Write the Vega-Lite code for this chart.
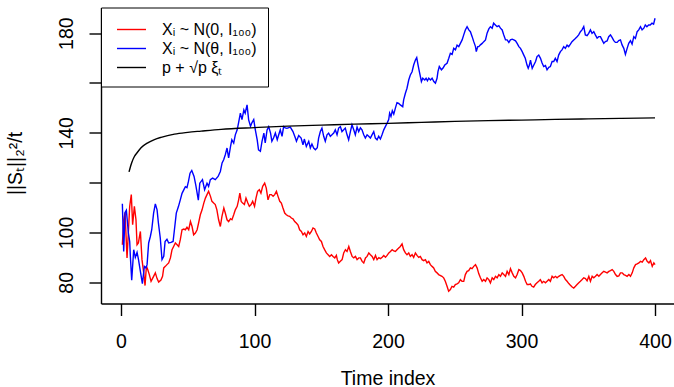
{
  "$schema": "https://vega.github.io/schema/vega-lite/v6.json",
  "width": 573,
  "height": 296,
  "autosize": {"type": "none"},
  "padding": {"left": 101, "top": 7.5, "right": 0, "bottom": 83.5},
  "background": "white",
  "config": {
    "view": {"stroke": null},
    "font": "Liberation Sans",
    "axis": {"domainColor": "black", "domainWidth": 1.4, "tickColor": "black", "tickWidth": 1.4, "labelColor": "black", "titleColor": "black", "grid": false, "labelFont": "Liberation Sans", "titleFont": "Liberation Sans", "titleFontWeight": "normal", "labelOverlap": false, "labelFlush": false}
  },
  "datasets": {
    "pts": [
      {"s":"a","t":1,"v":95.1},{"s":"a","t":2,"v":105.1},{"s":"a","t":3,"v":108},{"s":"a","t":4.5,"v":89.8},{"s":"a","t":5.5,"v":100},{"s":"a","t":6.5,"v":110.5},{"s":"a","t":7.7,"v":115.2},{"s":"a","t":8.7,"v":103.1},{"s":"a","t":10,"v":110.5},{"s":"a","t":11.2,"v":105.1},{"s":"a","t":12,"v":95.1},{"s":"a","t":13,"v":95.8},{"s":"a","t":14.5,"v":100.4},{"s":"a","t":15.7,"v":89.1},{"s":"a","t":17,"v":83.8},{"s":"a","t":18,"v":78.7},{"s":"a","t":19,"v":86.4},{"s":"a","t":20,"v":85.1},{"s":"a","t":21.2,"v":83.1},{"s":"a","t":22.5,"v":80.4},{"s":"a","t":24.4,"v":82.4},{"s":"a","t":25.7,"v":83.8},{"s":"a","t":27,"v":81.5},{"s":"a","t":28.2,"v":80.1},{"s":"a","t":29.9,"v":80.9},{"s":"a","t":31.1,"v":82.4},{"s":"a","t":32,"v":85.8},{"s":"a","t":33.2,"v":86.4},{"s":"a","t":34.4,"v":87.1},{"s":"a","t":35.7,"v":87.8},{"s":"a","t":37,"v":89.8},{"s":"a","t":38.2,"v":93.1},{"s":"a","t":39.4,"v":94.4},{"s":"a","t":40.7,"v":95.8},{"s":"a","t":42,"v":95.1},{"s":"a","t":43.2,"v":94.4},{"s":"a","t":44.4,"v":97.1},{"s":"a","t":45.7,"v":101.1},{"s":"a","t":47,"v":101.4},{"s":"a","t":48.2,"v":101.1},{"s":"a","t":49.4,"v":102.1},{"s":"a","t":50.7,"v":101.1},{"s":"a","t":52,"v":104.4},{"s":"a","t":53.2,"v":102.4},{"s":"a","t":54.4,"v":99.1},{"s":"a","t":55.7,"v":99.8},{"s":"a","t":57,"v":101.1},{"s":"a","t":58.1,"v":103.8},{"s":"a","t":59.4,"v":107.1},{"s":"a","t":60.7,"v":109.1},{"s":"a","t":62,"v":111.8},{"s":"a","t":63.2,"v":113.8},{"s":"a","t":64.4,"v":115.2},{"s":"a","t":65.6,"v":116.5},{"s":"a","t":67,"v":114.5},{"s":"a","t":68.1,"v":112.5},{"s":"a","t":69.4,"v":111.8},{"s":"a","t":70.6,"v":111.2},{"s":"a","t":71.8,"v":109.1},{"s":"a","t":73.1,"v":105.1},{"s":"a","t":74.4,"v":102.4},{"s":"a","t":75.6,"v":106.5},{"s":"a","t":77,"v":109.8},{"s":"a","t":78.1,"v":107.8},{"s":"a","t":79.4,"v":105.1},{"s":"a","t":80.6,"v":104.4},{"s":"a","t":82,"v":105.5},{"s":"a","t":83.1,"v":105.1},{"s":"a","t":84.4,"v":107.1},{"s":"a","t":85.6,"v":109.1},{"s":"a","t":87,"v":110.5},{"s":"a","t":88.1,"v":113.1},{"s":"a","t":89,"v":115.8},{"s":"a","t":90,"v":112.5},{"s":"a","t":91.1,"v":111.8},{"s":"a","t":92.4,"v":111.2},{"s":"a","t":93.6,"v":113.8},{"s":"a","t":95,"v":111.8},{"s":"a","t":96.1,"v":110.5},{"s":"a","t":97.4,"v":111.2},{"s":"a","t":98.6,"v":112.5},{"s":"a","t":100,"v":110.5},{"s":"a","t":101.1,"v":113.8},{"s":"a","t":102.3,"v":116.5},{"s":"a","t":103.6,"v":117.2},{"s":"a","t":104.8,"v":115.8},{"s":"a","t":106.1,"v":118.5},{"s":"a","t":107.6,"v":119.8},{"s":"a","t":108.8,"v":117.8},{"s":"a","t":110.1,"v":113.1},{"s":"a","t":111.4,"v":115.2},{"s":"a","t":112.6,"v":115.2},{"s":"a","t":113.9,"v":114.5},{"s":"a","t":115.1,"v":115.2},{"s":"a","t":116.4,"v":116.5},{"s":"a","t":117.6,"v":114.5},{"s":"a","t":118.9,"v":112.5},{"s":"a","t":120.1,"v":111.8},{"s":"a","t":121.3,"v":109.8},{"s":"a","t":122.6,"v":107.8},{"s":"a","t":123.8,"v":107.1},{"s":"a","t":125.1,"v":106.7},{"s":"a","t":126.3,"v":106.5},{"s":"a","t":127.6,"v":105.8},{"s":"a","t":128.8,"v":105.5},{"s":"a","t":130.1,"v":104.4},{"s":"a","t":131.3,"v":103.8},{"s":"a","t":132.6,"v":103},{"s":"a","t":133.8,"v":101.1},{"s":"a","t":135.1,"v":100.4},{"s":"a","t":136.3,"v":99.1},{"s":"a","t":137.6,"v":99.8},{"s":"a","t":138.8,"v":98.4},{"s":"a","t":140.1,"v":100.4},{"s":"a","t":141.3,"v":99.4},{"s":"a","t":142.6,"v":100.4},{"s":"a","t":143.8,"v":101.8},{"s":"a","t":145.1,"v":101.4},{"s":"a","t":146.3,"v":99.8},{"s":"a","t":147.6,"v":98.4},{"s":"a","t":148.8,"v":97.1},{"s":"a","t":150.1,"v":96.4},{"s":"a","t":151.3,"v":94.4},{"s":"a","t":152.5,"v":93.1},{"s":"a","t":153.8,"v":91.8},{"s":"a","t":155.1,"v":91.1},{"s":"a","t":156.3,"v":90.4},{"s":"a","t":157.6,"v":91.1},{"s":"a","t":158.8,"v":90.4},{"s":"a","t":160.1,"v":89.8},{"s":"a","t":161.3,"v":90.8},{"s":"a","t":162,"v":89.1},{"s":"a","t":163,"v":87.8},{"s":"a","t":164.3,"v":88.5},{"s":"a","t":165.6,"v":89.1},{"s":"a","t":166.8,"v":91.8},{"s":"a","t":168.1,"v":93.1},{"s":"a","t":169.3,"v":92.4},{"s":"a","t":170.6,"v":94.4},{"s":"a","t":171.8,"v":92.4},{"s":"a","t":173.1,"v":90.4},{"s":"a","t":174.3,"v":89.8},{"s":"a","t":175.6,"v":90.4},{"s":"a","t":176.8,"v":89.1},{"s":"a","t":178.1,"v":89.8},{"s":"a","t":179.3,"v":89.8},{"s":"a","t":180.6,"v":88.4},{"s":"a","t":181.8,"v":87.8},{"s":"a","t":183.1,"v":89.8},{"s":"a","t":184.3,"v":90.4},{"s":"a","t":185.6,"v":91.8},{"s":"a","t":186.8,"v":91.1},{"s":"a","t":188.1,"v":90.4},{"s":"a","t":189.3,"v":89.1},{"s":"a","t":190.6,"v":90.8},{"s":"a","t":191.8,"v":89.1},{"s":"a","t":193.1,"v":89.9},{"s":"a","t":194.3,"v":89.5},{"s":"a","t":195.6,"v":90.1},{"s":"a","t":196.8,"v":90.8},{"s":"a","t":198.1,"v":90.1},{"s":"a","t":199.3,"v":90.8},{"s":"a","t":200.6,"v":91.8},{"s":"a","t":201.8,"v":92.4},{"s":"a","t":203.1,"v":93.1},{"s":"a","t":204.3,"v":92.6},{"s":"a","t":205.5,"v":92.4},{"s":"a","t":206.7,"v":93.1},{"s":"a","t":208,"v":93.8},{"s":"a","t":209.2,"v":94.4},{"s":"a","t":210.5,"v":95.4},{"s":"a","t":211.7,"v":93.1},{"s":"a","t":213,"v":91.8},{"s":"a","t":214.2,"v":91.1},{"s":"a","t":215.5,"v":91.8},{"s":"a","t":216.7,"v":90.4},{"s":"a","t":218,"v":91.1},{"s":"a","t":219.2,"v":90},{"s":"a","t":220.5,"v":91.8},{"s":"a","t":221.7,"v":90.8},{"s":"a","t":223,"v":90},{"s":"a","t":224.2,"v":90.4},{"s":"a","t":225.5,"v":89.1},{"s":"a","t":226.7,"v":88.7},{"s":"a","t":228,"v":89.1},{"s":"a","t":229.2,"v":87.8},{"s":"a","t":230.5,"v":88.4},{"s":"a","t":231.7,"v":87.1},{"s":"a","t":233,"v":86.4},{"s":"a","t":234.2,"v":85.8},{"s":"a","t":235.4,"v":84.4},{"s":"a","t":236.7,"v":83.8},{"s":"a","t":237.9,"v":83.1},{"s":"a","t":240.4,"v":82.4},{"s":"a","t":241.7,"v":81.8},{"s":"a","t":242.9,"v":80.4},{"s":"a","t":244.2,"v":78.4},{"s":"a","t":245.4,"v":76.4},{"s":"a","t":246.7,"v":77.1},{"s":"a","t":247.9,"v":78.4},{"s":"a","t":249.2,"v":78.1},{"s":"a","t":250.4,"v":79.1},{"s":"a","t":251.7,"v":79.4},{"s":"a","t":252.9,"v":79.8},{"s":"a","t":254.2,"v":81.1},{"s":"a","t":255.4,"v":80.4},{"s":"a","t":256.7,"v":80.4},{"s":"a","t":257.9,"v":83.1},{"s":"a","t":259.2,"v":84.4},{"s":"a","t":260.4,"v":84.7},{"s":"a","t":261.7,"v":85.8},{"s":"a","t":262.9,"v":85.5},{"s":"a","t":264.2,"v":86.4},{"s":"a","t":265.5,"v":87.1},{"s":"a","t":266.7,"v":85.8},{"s":"a","t":268,"v":83.4},{"s":"a","t":269.2,"v":81.8},{"s":"a","t":270.5,"v":80.4},{"s":"a","t":271.7,"v":81.1},{"s":"a","t":273,"v":80.4},{"s":"a","t":274.2,"v":81.8},{"s":"a","t":275.5,"v":81.1},{"s":"a","t":276.7,"v":79.8},{"s":"a","t":278,"v":81.8},{"s":"a","t":279.2,"v":81.1},{"s":"a","t":280.5,"v":82.4},{"s":"a","t":281.7,"v":81.8},{"s":"a","t":283,"v":83.1},{"s":"a","t":284.2,"v":82.4},{"s":"a","t":285.5,"v":83.8},{"s":"a","t":286.7,"v":83.1},{"s":"a","t":288,"v":82.4},{"s":"a","t":289.2,"v":84.4},{"s":"a","t":290.5,"v":83.1},{"s":"a","t":291.7,"v":85.5},{"s":"a","t":293,"v":83.8},{"s":"a","t":294.2,"v":82.4},{"s":"a","t":295.5,"v":81.8},{"s":"a","t":296.7,"v":83.1},{"s":"a","t":298,"v":85.1},{"s":"a","t":299.2,"v":84.7},{"s":"a","t":300.5,"v":83.8},{"s":"a","t":301.7,"v":82.4},{"s":"a","t":303,"v":80.4},{"s":"a","t":304.2,"v":79.1},{"s":"a","t":305.5,"v":79.1},{"s":"a","t":306.6,"v":79.4},{"s":"a","t":307.8,"v":78.4},{"s":"a","t":309.1,"v":78.1},{"s":"a","t":310.3,"v":79.1},{"s":"a","t":311.6,"v":79.8},{"s":"a","t":312.9,"v":80.4},{"s":"a","t":314.1,"v":81.1},{"s":"a","t":315.4,"v":79.8},{"s":"a","t":316.6,"v":80.4},{"s":"a","t":317.9,"v":79.8},{"s":"a","t":319.1,"v":80.4},{"s":"a","t":320.4,"v":81.1},{"s":"a","t":321.6,"v":80.4},{"s":"a","t":322.9,"v":82.4},{"s":"a","t":324.1,"v":81.8},{"s":"a","t":325.4,"v":82.4},{"s":"a","t":326.6,"v":81.8},{"s":"a","t":327.9,"v":82.4},{"s":"a","t":329.1,"v":82.8},{"s":"a","t":330.4,"v":83.1},{"s":"a","t":331.6,"v":82.4},{"s":"a","t":332.9,"v":81.1},{"s":"a","t":334.1,"v":80.4},{"s":"a","t":335.4,"v":79.5},{"s":"a","t":336.6,"v":78.8},{"s":"a","t":337.9,"v":78.1},{"s":"a","t":339.1,"v":77.7},{"s":"a","t":340.4,"v":78.4},{"s":"a","t":341.6,"v":79.1},{"s":"a","t":342.9,"v":79.8},{"s":"a","t":344.1,"v":80.4},{"s":"a","t":345.4,"v":81.1},{"s":"a","t":346.6,"v":81.8},{"s":"a","t":347.9,"v":81.5},{"s":"a","t":349.1,"v":80.6},{"s":"a","t":350.4,"v":82.4},{"s":"a","t":351.6,"v":80.4},{"s":"a","t":352.9,"v":82.4},{"s":"a","t":354.1,"v":81.8},{"s":"a","t":355.4,"v":82.4},{"s":"a","t":356.6,"v":83.1},{"s":"a","t":357.9,"v":82.4},{"s":"a","t":359.1,"v":83.1},{"s":"a","t":360.4,"v":83.8},{"s":"a","t":361.6,"v":84.4},{"s":"a","t":362.9,"v":84.1},{"s":"a","t":364.1,"v":83.8},{"s":"a","t":365.4,"v":84.4},{"s":"a","t":366.6,"v":84.7},{"s":"a","t":367.9,"v":85.1},{"s":"a","t":369.1,"v":84.4},{"s":"a","t":370.4,"v":83.1},{"s":"a","t":371.6,"v":82.4},{"s":"a","t":372.9,"v":82.6},{"s":"a","t":374.1,"v":83.8},{"s":"a","t":375.4,"v":83.8},{"s":"a","t":376.6,"v":83.1},{"s":"a","t":377.9,"v":82.8},{"s":"a","t":379.1,"v":82.4},{"s":"a","t":380.4,"v":83.1},{"s":"a","t":381.6,"v":82.4},{"s":"a","t":382.9,"v":83.8},{"s":"a","t":384.1,"v":85.8},{"s":"a","t":385.4,"v":87.1},{"s":"a","t":386.6,"v":87.4},{"s":"a","t":387.9,"v":87.8},{"s":"a","t":389.1,"v":88.4},{"s":"a","t":390.4,"v":88.1},{"s":"a","t":391.6,"v":89.1},{"s":"a","t":392.9,"v":89.8},{"s":"a","t":394.1,"v":88.4},{"s":"a","t":395.4,"v":87.8},{"s":"a","t":396.6,"v":88.7},{"s":"a","t":397.9,"v":86.4},{"s":"a","t":399.1,"v":87.8},{"s":"a","t":400,"v":87.1},
      {"s":"b","t":1,"v":111.5},{"s":"b","t":2,"v":92.4},{"s":"b","t":3,"v":108},{"s":"b","t":4,"v":108.9},{"s":"b","t":5.5,"v":99.9},{"s":"b","t":6.5,"v":96.4},{"s":"b","t":7,"v":90.4},{"s":"b","t":8,"v":80.8},{"s":"b","t":9.5,"v":93.1},{"s":"b","t":10.7,"v":90},{"s":"b","t":12,"v":92},{"s":"b","t":13,"v":89.4},{"s":"b","t":14.5,"v":84.4},{"s":"b","t":16,"v":79.5},{"s":"b","t":17.5,"v":86.4},{"s":"b","t":18.7,"v":85.8},{"s":"b","t":19.5,"v":87.1},{"s":"b","t":20.7,"v":95.8},{"s":"b","t":22,"v":98.5},{"s":"b","t":23,"v":101.1},{"s":"b","t":24.4,"v":107.8},{"s":"b","t":25.7,"v":111.5},{"s":"b","t":27,"v":109.1},{"s":"b","t":28,"v":103.8},{"s":"b","t":29.4,"v":97.8},{"s":"b","t":30.7,"v":89.1},{"s":"b","t":32,"v":90.4},{"s":"b","t":33,"v":96.4},{"s":"b","t":34.4,"v":97.3},{"s":"b","t":35.7,"v":95.8},{"s":"b","t":37.4,"v":96},{"s":"b","t":39,"v":96.4},{"s":"b","t":40,"v":101.1},{"s":"b","t":41.4,"v":107.8},{"s":"b","t":43,"v":110.4},{"s":"b","t":44.4,"v":113.1},{"s":"b","t":45.7,"v":115.7},{"s":"b","t":47,"v":117.1},{"s":"b","t":48.2,"v":118.4},{"s":"b","t":49.4,"v":118},{"s":"b","t":50.5,"v":120.5},{"s":"b","t":51.7,"v":123.8},{"s":"b","t":53,"v":124.9},{"s":"b","t":54.7,"v":122.5},{"s":"b","t":56,"v":119},{"s":"b","t":57.9,"v":113},{"s":"b","t":59,"v":119.8},{"s":"b","t":61,"v":121.2},{"s":"b","t":62.6,"v":117.2},{"s":"b","t":64.4,"v":119.8},{"s":"b","t":65.6,"v":118.5},{"s":"b","t":66.9,"v":121.2},{"s":"b","t":68.6,"v":121.8},{"s":"b","t":70.6,"v":121.2},{"s":"b","t":72.7,"v":122.5},{"s":"b","t":74.4,"v":124.5},{"s":"b","t":75.7,"v":127.9},{"s":"b","t":76.9,"v":129.2},{"s":"b","t":78.1,"v":131.2},{"s":"b","t":79.4,"v":133.9},{"s":"b","t":80.6,"v":129.9},{"s":"b","t":82,"v":134.5},{"s":"b","t":83,"v":137.2},{"s":"b","t":84.4,"v":135.9},{"s":"b","t":85.6,"v":139.2},{"s":"b","t":87,"v":141.2},{"s":"b","t":88,"v":143.9},{"s":"b","t":89.4,"v":147.9},{"s":"b","t":90.6,"v":145.3},{"s":"b","t":92,"v":149.2},{"s":"b","t":93,"v":147.9},{"s":"b","t":94.4,"v":151.2},{"s":"b","t":95.6,"v":145.2},{"s":"b","t":97,"v":142.6},{"s":"b","t":98,"v":144},{"s":"b","t":99.4,"v":145.3},{"s":"b","t":100.6,"v":141.2},{"s":"b","t":102,"v":137.2},{"s":"b","t":103,"v":133.2},{"s":"b","t":104.4,"v":132.6},{"s":"b","t":105.6,"v":136.6},{"s":"b","t":107,"v":139.9},{"s":"b","t":108,"v":136},{"s":"b","t":109.4,"v":141.2},{"s":"b","t":110.6,"v":142.5},{"s":"b","t":112,"v":139.9},{"s":"b","t":113,"v":136.6},{"s":"b","t":114.3,"v":138},{"s":"b","t":115.6,"v":139.9},{"s":"b","t":117,"v":137.2},{"s":"b","t":118,"v":139},{"s":"b","t":119.3,"v":141.2},{"s":"b","t":120.6,"v":138.6},{"s":"b","t":121.8,"v":142.5},{"s":"b","t":123,"v":142},{"s":"b","t":124.3,"v":141.8},{"s":"b","t":126.8,"v":142.3},{"s":"b","t":128.8,"v":140.5},{"s":"b","t":130.6,"v":137.9},{"s":"b","t":131.4,"v":136.6},{"s":"b","t":133.1,"v":138.9},{"s":"b","t":134.9,"v":137.9},{"s":"b","t":136.3,"v":135.2},{"s":"b","t":137.3,"v":137.5},{"s":"b","t":138.8,"v":134.5},{"s":"b","t":140.6,"v":136.6},{"s":"b","t":141.8,"v":133.9},{"s":"b","t":143,"v":135.5},{"s":"b","t":144.3,"v":133.9},{"s":"b","t":145.6,"v":133.2},{"s":"b","t":147,"v":134},{"s":"b","t":148,"v":137.9},{"s":"b","t":149.3,"v":140.5},{"s":"b","t":150.5,"v":141.9},{"s":"b","t":151.8,"v":138.6},{"s":"b","t":153,"v":136.6},{"s":"b","t":154.3,"v":139.2},{"s":"b","t":155.5,"v":139.9},{"s":"b","t":156.8,"v":138.6},{"s":"b","t":158,"v":139.2},{"s":"b","t":159.3,"v":139.9},{"s":"b","t":160.5,"v":141.2},{"s":"b","t":161.8,"v":139.2},{"s":"b","t":163,"v":141.9},{"s":"b","t":164.3,"v":142.5},{"s":"b","t":165.5,"v":140.5},{"s":"b","t":166.8,"v":141.2},{"s":"b","t":168,"v":141.9},{"s":"b","t":169.3,"v":139.2},{"s":"b","t":170.5,"v":137.2},{"s":"b","t":171.8,"v":140.5},{"s":"b","t":173,"v":143.2},{"s":"b","t":174.3,"v":141.2},{"s":"b","t":175.5,"v":139.2},{"s":"b","t":176.8,"v":142.3},{"s":"b","t":178,"v":140.5},{"s":"b","t":179.3,"v":142},{"s":"b","t":180.5,"v":141.2},{"s":"b","t":181.8,"v":139.2},{"s":"b","t":183,"v":137.9},{"s":"b","t":184.3,"v":139.2},{"s":"b","t":185.5,"v":138.6},{"s":"b","t":186.8,"v":137.9},{"s":"b","t":188,"v":139.2},{"s":"b","t":189.3,"v":140.5},{"s":"b","t":190.5,"v":137.9},{"s":"b","t":191.8,"v":137.2},{"s":"b","t":193,"v":138.6},{"s":"b","t":194.3,"v":137.5},{"s":"b","t":195.5,"v":139.2},{"s":"b","t":196.8,"v":141.2},{"s":"b","t":198,"v":142.5},{"s":"b","t":199.3,"v":143.9},{"s":"b","t":200.5,"v":145.3},{"s":"b","t":201.2,"v":147.9},{"s":"b","t":202.2,"v":146.6},{"s":"b","t":203.2,"v":148.9},{"s":"b","t":204.3,"v":147.5},{"s":"b","t":205.5,"v":149.9},{"s":"b","t":206.7,"v":152.1},{"s":"b","t":208,"v":151.8},{"s":"b","t":209.2,"v":151.2},{"s":"b","t":211,"v":150.5},{"s":"b","t":211.7,"v":153.2},{"s":"b","t":213,"v":155.9},{"s":"b","t":214.2,"v":157.9},{"s":"b","t":215.5,"v":161.2},{"s":"b","t":216.7,"v":163.2},{"s":"b","t":218,"v":164.5},{"s":"b","t":219.2,"v":167.2},{"s":"b","t":220.5,"v":169.2},{"s":"b","t":221.5,"v":170.2},{"s":"b","t":222.5,"v":167.2},{"s":"b","t":223.5,"v":164.5},{"s":"b","t":225,"v":160.6},{"s":"b","t":226,"v":161.9},{"s":"b","t":227.5,"v":161.2},{"s":"b","t":228.5,"v":161.9},{"s":"b","t":229.5,"v":160.9},{"s":"b","t":230.5,"v":161.9},{"s":"b","t":231.8,"v":161.2},{"s":"b","t":233,"v":161.9},{"s":"b","t":234.3,"v":160.6},{"s":"b","t":235.5,"v":159.9},{"s":"b","t":236.7,"v":161.9},{"s":"b","t":237.4,"v":164.6},{"s":"b","t":238.4,"v":166.6},{"s":"b","t":240,"v":165.3},{"s":"b","t":241.2,"v":166},{"s":"b","t":242.5,"v":167.2},{"s":"b","t":244.2,"v":167.9},{"s":"b","t":245.5,"v":169.9},{"s":"b","t":246.7,"v":171.9},{"s":"b","t":248,"v":171.5},{"s":"b","t":249.2,"v":173.9},{"s":"b","t":250.5,"v":173.3},{"s":"b","t":251.7,"v":175.2},{"s":"b","t":253,"v":174.6},{"s":"b","t":254.2,"v":175.9},{"s":"b","t":255.5,"v":177.3},{"s":"b","t":256.7,"v":179.3},{"s":"b","t":257.9,"v":181.3},{"s":"b","t":259.2,"v":182.6},{"s":"b","t":260.5,"v":181.3},{"s":"b","t":261.7,"v":180.6},{"s":"b","t":263,"v":178.6},{"s":"b","t":264.2,"v":176.6},{"s":"b","t":265.5,"v":174.6},{"s":"b","t":266.1,"v":172.6},{"s":"b","t":267.2,"v":174.6},{"s":"b","t":268,"v":174.6},{"s":"b","t":269.2,"v":175.3},{"s":"b","t":270.5,"v":175.9},{"s":"b","t":271.7,"v":176.6},{"s":"b","t":273,"v":177.3},{"s":"b","t":274.2,"v":180},{"s":"b","t":275.5,"v":181.7},{"s":"b","t":276.7,"v":182.6},{"s":"b","t":278,"v":182},{"s":"b","t":279.1,"v":184},{"s":"b","t":280.4,"v":183.3},{"s":"b","t":281.7,"v":182.6},{"s":"b","t":283,"v":183},{"s":"b","t":284.2,"v":182},{"s":"b","t":285.5,"v":181.3},{"s":"b","t":286.7,"v":179.3},{"s":"b","t":288,"v":177.3},{"s":"b","t":289.2,"v":177.3},{"s":"b","t":290.5,"v":176.3},{"s":"b","t":291.7,"v":177.3},{"s":"b","t":293,"v":177.6},{"s":"b","t":294.2,"v":177.3},{"s":"b","t":295.5,"v":176.9},{"s":"b","t":296.7,"v":175.9},{"s":"b","t":298,"v":174.6},{"s":"b","t":299.2,"v":173.9},{"s":"b","t":300.5,"v":172.6},{"s":"b","t":301.6,"v":171.3},{"s":"b","t":302.8,"v":169.9},{"s":"b","t":304.1,"v":167.2},{"s":"b","t":305,"v":165.9},{"s":"b","t":305.9,"v":167.2},{"s":"b","t":306.7,"v":169.2},{"s":"b","t":308,"v":165.9},{"s":"b","t":309.2,"v":167.2},{"s":"b","t":310.5,"v":168.6},{"s":"b","t":311.6,"v":170.6},{"s":"b","t":312.9,"v":171.2},{"s":"b","t":314.2,"v":169.9},{"s":"b","t":315.4,"v":168},{"s":"b","t":316.6,"v":166.6},{"s":"b","t":317.9,"v":167},{"s":"b","t":319.1,"v":165.3},{"s":"b","t":320.4,"v":166.3},{"s":"b","t":321.6,"v":166.6},{"s":"b","t":322.9,"v":168.6},{"s":"b","t":324.1,"v":168.6},{"s":"b","t":325.3,"v":169.9},{"s":"b","t":326.6,"v":168.6},{"s":"b","t":327.8,"v":171.2},{"s":"b","t":329.1,"v":172.6},{"s":"b","t":330.3,"v":173.3},{"s":"b","t":331.6,"v":174.6},{"s":"b","t":332.8,"v":173.9},{"s":"b","t":334.1,"v":175.2},{"s":"b","t":335.3,"v":174.6},{"s":"b","t":336.6,"v":175.6},{"s":"b","t":337.8,"v":176.6},{"s":"b","t":339.1,"v":177.3},{"s":"b","t":340.3,"v":177.9},{"s":"b","t":341.6,"v":178.6},{"s":"b","t":342.8,"v":179.3},{"s":"b","t":344.1,"v":180.6},{"s":"b","t":345.3,"v":181.3},{"s":"b","t":346.6,"v":182.6},{"s":"b","t":347.8,"v":179.3},{"s":"b","t":349.1,"v":179},{"s":"b","t":350.3,"v":179.9},{"s":"b","t":351.6,"v":181.3},{"s":"b","t":352.8,"v":179.9},{"s":"b","t":354.1,"v":180.6},{"s":"b","t":355.3,"v":179.3},{"s":"b","t":356.6,"v":178},{"s":"b","t":357.8,"v":178.6},{"s":"b","t":359.1,"v":178.6},{"s":"b","t":360.3,"v":177.3},{"s":"b","t":361.6,"v":175.9},{"s":"b","t":362.8,"v":176.6},{"s":"b","t":364.1,"v":176.9},{"s":"b","t":365.3,"v":178.6},{"s":"b","t":366.6,"v":179.3},{"s":"b","t":367.8,"v":178.3},{"s":"b","t":369.1,"v":177},{"s":"b","t":370.3,"v":176.3},{"s":"b","t":371.6,"v":176.3},{"s":"b","t":372.8,"v":177},{"s":"b","t":374.1,"v":177.3},{"s":"b","t":375.3,"v":175.3},{"s":"b","t":376.6,"v":173.9},{"s":"b","t":377.8,"v":171.5},{"s":"b","t":379.1,"v":173.9},{"s":"b","t":380.3,"v":175.9},{"s":"b","t":381.6,"v":177},{"s":"b","t":382.8,"v":175.6},{"s":"b","t":384.1,"v":178.6},{"s":"b","t":385.3,"v":177.9},{"s":"b","t":386.6,"v":180.6},{"s":"b","t":387.8,"v":181.3},{"s":"b","t":389.1,"v":182.6},{"s":"b","t":390.3,"v":181.3},{"s":"b","t":391.6,"v":182},{"s":"b","t":392.7,"v":183.3},{"s":"b","t":393.9,"v":182.6},{"s":"b","t":395.2,"v":183.3},{"s":"b","t":396.4,"v":183.3},{"s":"b","t":397.7,"v":184},{"s":"b","t":398.9,"v":183.6},{"s":"b","t":400,"v":186}
    ],
    "curve": [
      {"s":"c","t":6,"v":124.3},{"s":"c","t":7,"v":126.3},{"s":"c","t":8,"v":128},{"s":"c","t":10,"v":130.5},{"s":"c","t":12,"v":132},{"s":"c","t":15,"v":134},{"s":"c","t":20,"v":136},{"s":"c","t":25,"v":137.3},{"s":"c","t":30,"v":138.2},{"s":"c","t":40,"v":139.5},{"s":"c","t":50,"v":140.2},{"s":"c","t":60,"v":140.7},{"s":"c","t":75,"v":141.4},{"s":"c","t":100,"v":142.1},{"s":"c","t":125,"v":142.7},{"s":"c","t":150,"v":143.1},{"s":"c","t":175,"v":143.5},{"s":"c","t":200,"v":143.8},{"s":"c","t":225,"v":144.2},{"s":"c","t":250,"v":144.6},{"s":"c","t":275,"v":144.9},{"s":"c","t":300,"v":145.1},{"s":"c","t":325,"v":145.4},{"s":"c","t":350,"v":145.6},{"s":"c","t":375,"v":145.8},{"s":"c","t":400,"v":146}
    ]
  },
  "encoding": {
    "x": {"field": "t", "type": "quantitative",
      "scale": {"domain": [-15, 414.2], "nice": false, "zero": false},
      "axis": {"values": [0, 100, 200, 300, 400], "tickSize": 12, "labelPadding": 16.5, "labelFontSize": 19.5, "title": "Time index", "titleFontSize": 19.5, "titleBaseline": "alphabetic", "titleY": 80.5}},
    "y": {"field": "v", "type": "quantitative",
      "scale": {"domain": [71.5, 190.3], "nice": false, "zero": false},
      "axis": {"values": [80, 100, 120, 140, 160, 180], "labelExpr": "datum.value == 120 || datum.value == 160 ? '' : datum.label", "tickSize": 12, "labelAngle": -90, "labelAlign": "center", "labelBaseline": "alphabetic", "labelPadding": 17, "labelFontSize": 19.5, "title": "||Sₜ||₂²/t", "titleFontSize": 19.5, "titleAngle": -90, "titleAlign": "center", "titleBaseline": "alphabetic", "titleX": -80, "titleY": 155.5}},
    "color": {"field": "s", "type": "nominal",
      "scale": {"domain": ["a", "b", "c"], "range": ["#FF0000", "#0000FF", "#000000"]},
      "legend": {"title": null, "orient": "top-left", "offset": 0, "padding": 11, "fillColor": "white", "strokeColor": "black", "symbolType": "M-1.45,0H1.45", "symbolSize": 400, "symbolStrokeWidth": 1.4, "symbolOffset": 8.5, "labelOffset": 19.5, "labelFontSize": 16, "labelColor": "black", "labelFont": "Liberation Sans", "rowPadding": 0,
        "labelExpr": "datum.value == 'a' ? 'Xᵢ ~ N(0, I₁₀₀)' : datum.value == 'b' ? 'Xᵢ ~ N(θ, I₁₀₀)' : 'p + √p ξₜ'"}}
  },
  "layer": [
    {"data": {"name": "pts"}, "mark": {"type": "line", "strokeWidth": 1.4}},
    {"data": {"name": "curve"}, "mark": {"type": "line", "strokeWidth": 1.4, "interpolate": "monotone"}},
    {"mark": {"type": "rule", "color": "black", "strokeWidth": 1.4}, "encoding": {"x": null, "color": null, "y": {"datum": 190.3}}}
  ]
}
